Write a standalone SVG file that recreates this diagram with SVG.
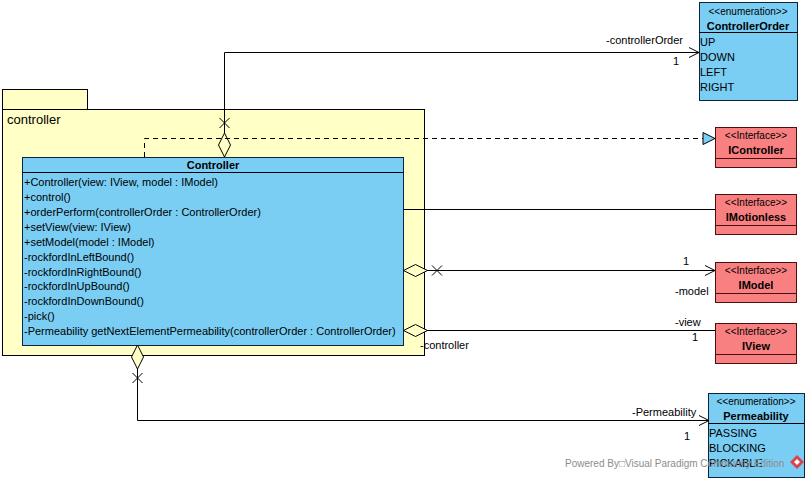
<svg xmlns="http://www.w3.org/2000/svg" width="809" height="479" viewBox="0 0 809 479">
<defs>
<style>
text{font-family:"Liberation Sans",Arial,sans-serif;font-size:11px;fill:#000}
.st{font-size:10px}
.b{font-weight:bold}
.c{text-anchor:middle}
.cls{fill:#7ACEF4;stroke:#0B2540;stroke-width:1}
.itf{fill:#F88080;stroke:#4A1010;stroke-width:1}
.pkg{fill:#FFFFC6;stroke:#000;stroke-width:1}
.ln{fill:none;stroke:#000;stroke-width:1}
.dash{fill:none;stroke:#000;stroke-width:1;stroke-dasharray:5,4}
.dia{fill:#FFFFC6;stroke:#000;stroke-width:1}
.wm{fill:#8C8C8C;font-size:10px}
</style>
<marker id="open" markerWidth="12" markerHeight="12" refX="11" refY="6" orient="auto" markerUnits="userSpaceOnUse">
<path d="M1,1 L11,6 L1,11" fill="none" stroke="#000" stroke-width="1"/>
</marker>
</defs>
<rect width="809" height="479" fill="#fff"/>

<g id="package-controller">
<rect class="pkg" x="2.5" y="89.5" width="85" height="20"/>
<rect class="pkg" x="2.5" y="109.5" width="422" height="246"/>
<text x="7" y="124" style="font-size:13px">controller</text>
</g>

<g id="node-Controller">
<rect class="cls" x="22.5" y="157.5" width="381" height="188"/>
<line class="ln" x1="22.5" y1="172.5" x2="403.5" y2="172.5"/>
<text class="b c" x="213" y="169">Controller</text>
<text x="24" y="186">+Controller(view: IView, model : IModel)</text>
<text x="24" y="201">+control()</text>
<text x="24" y="216">+orderPerform(controllerOrder : ControllerOrder)</text>
<text x="24" y="231">+setView(view: IView)</text>
<text x="24" y="246">+setModel(model : IModel)</text>
<text x="24" y="261">-rockfordInLeftBound()</text>
<text x="24" y="276">-rockfordInRightBound()</text>
<text x="24" y="290">-rockfordInUpBound()</text>
<text x="24" y="305">-rockfordInDownBound()</text>
<text x="24" y="320">-pick()</text>
<text x="24" y="335">-Permeability getNextElementPermeability(controllerOrder : ControllerOrder)</text>
</g>

<g id="node-ControllerOrder">
<rect class="cls" x="699.5" y="2.5" width="98" height="98"/>
<line class="ln" x1="699.5" y1="32.5" x2="797.5" y2="32.5"/>
<text class="st c" x="748" y="15">&lt;&lt;enumeration&gt;&gt;</text>
<text class="b c" x="748" y="30">ControllerOrder</text>
<text x="700" y="46">UP</text>
<text x="700" y="61">DOWN</text>
<text x="700" y="76">LEFT</text>
<text x="700" y="91">RIGHT</text>
</g>

<g id="node-IController">
<rect class="itf" x="715.5" y="127.5" width="81" height="40"/>
<line class="ln" x1="715.5" y1="158.5" x2="796.5" y2="158.5" style="stroke:#4A1010"/>
<text class="st c" x="756" y="139">&lt;&lt;Interface&gt;&gt;</text>
<text class="b c" x="756" y="154">IController</text>
</g>

<g id="node-IMotionless">
<rect class="itf" x="715.5" y="194.5" width="81" height="40"/>
<line class="ln" x1="715.5" y1="225.5" x2="796.5" y2="225.5" style="stroke:#4A1010"/>
<text class="st c" x="756" y="206">&lt;&lt;Interface&gt;&gt;</text>
<text class="b c" x="756" y="221">IMotionless</text>
</g>

<g id="node-IModel">
<rect class="itf" x="715.5" y="262.5" width="81" height="40"/>
<line class="ln" x1="715.5" y1="293.5" x2="796.5" y2="293.5" style="stroke:#4A1010"/>
<text class="st c" x="756" y="274">&lt;&lt;Interface&gt;&gt;</text>
<text class="b c" x="756" y="289">IModel</text>
</g>

<g id="node-IView">
<rect class="itf" x="715.5" y="323.5" width="81" height="40"/>
<line class="ln" x1="715.5" y1="354.5" x2="796.5" y2="354.5" style="stroke:#4A1010"/>
<text class="st c" x="756" y="335">&lt;&lt;Interface&gt;&gt;</text>
<text class="b c" x="756" y="350">IView</text>
</g>

<g id="node-Permeability">
<rect class="cls" x="708.5" y="393.5" width="96" height="84"/>
<line class="ln" x1="708.5" y1="423.5" x2="804.5" y2="423.5"/>
<text class="st c" x="756" y="405">&lt;&lt;enumeration&gt;&gt;</text>
<text class="b c" x="756" y="420">Permeability</text>
<text x="709" y="437">PASSING</text>
<text x="709" y="452">BLOCKING</text>
<text x="709" y="467">PICKABLE</text>
</g>

<g id="connectors">
<path class="ln" d="M224.5,133 V52.5 H699" marker-end="url(#open)"/>
<path class="dia" d="M224.5,133 L230.5,145 L224.5,157 L218.5,145 Z"/>
<path class="ln" d="M219.5,118 L229.5,128 M229.5,118 L219.5,128"/>
<text x="606" y="44">-controllerOrder</text>
<text x="673" y="65">1</text>

<path class="dash" d="M144.5,157 V138.5 H704"/>
<path d="M715,138.5 L703,132.5 L703,144.5 Z" fill="#7ACEF4" stroke="#000" stroke-width="1"/>

<line class="ln" x1="403.5" y1="209.5" x2="715" y2="209.5"/>

<path class="ln" d="M427,270.5 H715" marker-end="url(#open)"/>
<path class="dia" d="M403.5,270.5 L415.5,264.5 L427.5,270.5 L415.5,276.5 Z"/>
<path class="ln" d="M432,265.5 L442,275.5 M442,265.5 L432,275.5"/>
<text x="683" y="265">1</text>
<text x="675" y="295">-model</text>

<line class="ln" x1="427" y1="330.5" x2="715" y2="330.5"/>
<path class="dia" d="M403.5,330.5 L415.5,324.5 L427.5,330.5 L415.5,336.5 Z"/>
<text x="675" y="326">-view</text>
<text x="692" y="341">1</text>
<text x="420" y="349">-controller</text>

<path class="ln" d="M137.5,369 V420.5 H709" marker-end="url(#open)"/>
<path class="dia" d="M137.5,345 L143.5,357 L137.5,369 L131.5,357 Z"/>
<path class="ln" d="M132.5,373 L142.5,383 M142.5,373 L132.5,383"/>
<text x="632" y="416">-Permeability</text>
<text x="684" y="440">1</text>
</g>

<g id="watermark">
<text class="wm" x="565" y="467">Powered By□Visual Paradigm Community Edition</text>
<path d="M797,455 L804,462 L797,469 L790,462 Z" fill="#D9434B"/>
<path d="M797,459 L800,462 L797,465 L794,462 Z" fill="#fff"/>
</g>
</svg>
